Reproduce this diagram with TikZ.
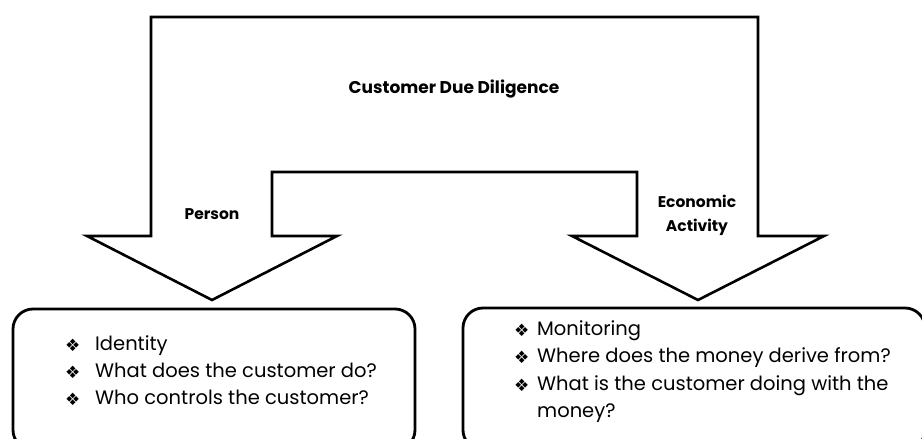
\documentclass[tikz,border=0pt]{standalone}
\usepackage{fontspec}
\setmainfont{Poppins}
\newfontfamily\symfont{DejaVu Sans}
\begin{document}
\begin{tikzpicture}[x=1pt,y=-1pt,
  shape line/.style={draw=black,line width=2.6pt,line join=miter},
  boxline/.style={draw=black,line width=2.8pt,rounded corners=20pt},
  lbl/.style={font=\fontsize{15.5}{18}\selectfont\bfseries,inner sep=0pt,anchor=base},
  itm/.style={font=\fontsize{19.5}{24}\selectfont,inner sep=0pt,anchor=base west},
  bul/.style={font=\symfont\fontsize{17}{20}\selectfont,inner sep=0pt,anchor=base west}]
\useasboundingbox (0,0) rectangle (922,439);
\clip (0,0) rectangle (922,439);
% big double arrow
\draw[shape line] (87,236) -- (151,236) -- (151,17) -- (758,17) -- (758,236) -- (824,236)
  -- (698,300) -- (572,236) -- (637,236) -- (637,172) -- (272,172) -- (272,236)
  -- (337,236) -- (212,300) -- cycle;
\node[lbl,font=\fontsize{17}{20}\selectfont\bfseries] (title) at (454,93) {Customer Due Diligence};
\node[lbl] (person) at (212,219) {Person};
\node[lbl] (econ) at (697,207) {Economic};
\node[lbl] (act) at (697,231) {Activity};
% boxes
\draw[boxline] (13,309) rectangle (415,450);
\draw[boxline] (463,308) rectangle (925,450);
% left items
\node[bul] (lb1) at (65,351) {❖};
\node[itm] (li1) at (95,350) {Identity};
\node[bul] (lb2) at (65,378) {❖};
\node[itm] (li2) at (95,377) {What does the customer do?};
\node[bul] (lb3) at (65,405) {❖};
\node[itm] (li3) at (95,404) {Who controls the customer?};
% right items
\node[bul] (rb1) at (514,336) {❖};
\node[itm] (ri1) at (537,335) {Monitoring};
\node[bul] (rb2) at (514,363) {❖};
\node[itm] (ri2) at (537,362) {Where does the money derive from?};
\node[bul] (rb3) at (514,391) {❖};
\node[itm] (ri3) at (537,390) {What is the customer doing with the};
\node[itm] (ri4) at (537,417) {money?};
\end{tikzpicture}
\end{document}
